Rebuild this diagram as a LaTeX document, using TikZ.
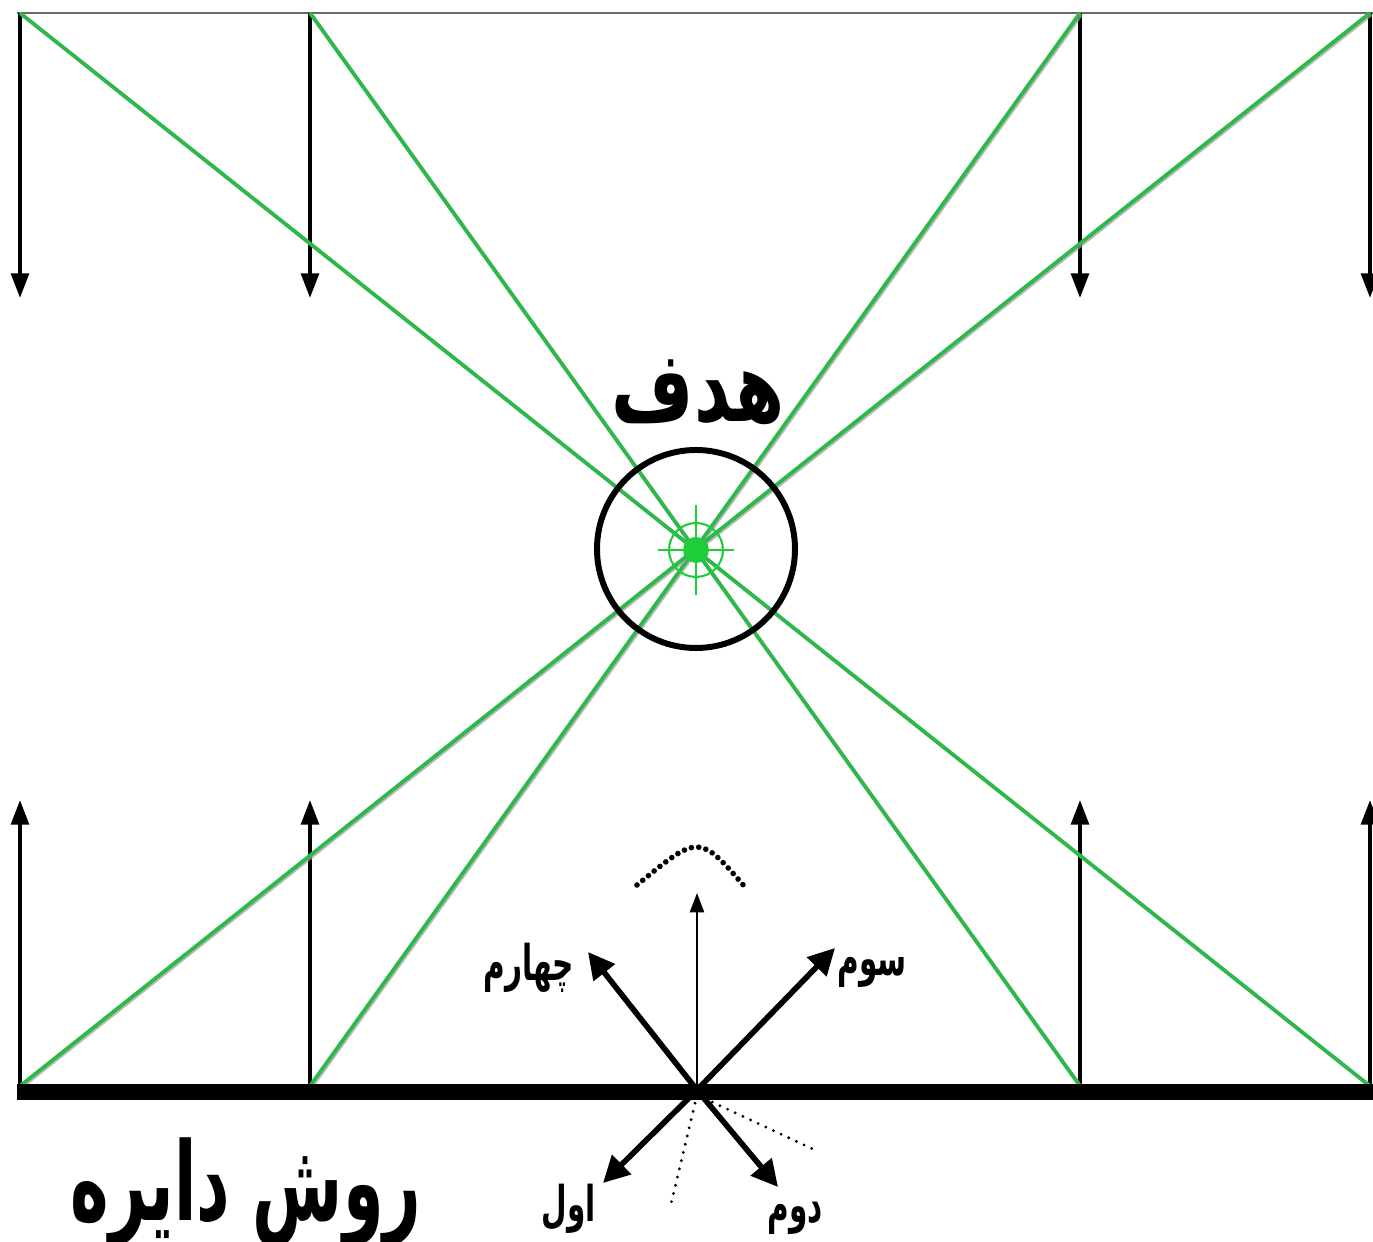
\documentclass[tikz,border=0pt]{standalone}
\usepackage{fontspec}
\usepackage{tikz}
\usetikzlibrary{positioning, arrows.meta, calc}
\TeXXeTstate=1
\newfontfamily\arabicfont[Script=Arabic, FakeStretch=0.72]{DejaVu Sans}
\newfontfamily\narrowfont[Script=Arabic, FakeStretch=0.6]{DejaVu Sans}
\definecolor{beamGreen}{HTML}{2DB84A}
\definecolor{targetGreen}{HTML}{1FCC3A}
\definecolor{frameGray}{HTML}{6A6A6A}
\definecolor{shadowGray}{HTML}{9A9A9A}

\begin{document}
\begin{tikzpicture}[
  beam/.style={beamGreen, line width=1.05pt},
  beamshadow/.style={shadowGray, line width=1pt, opacity=0.7},
  wallarrow/.style={-{Triangle[length=7pt, width=5pt]}, line width=1.15pt, black},
  dirarrow/.style={-{Triangle[length=7.5pt, width=7.5pt]}, line width=1.6pt, black},
  thinarrow/.style={-{Triangle[length=5.5pt, width=4pt]}, line width=0.65pt, black},
  dotline/.style={line width=0.9pt, line cap=round, dash pattern=on 0pt off 2.4pt},
  bigdots/.style={line width=1.6pt, line cap=round, dash pattern=on 0pt off 2.1pt},
  biglabel/.style={font=\arabicfont\bfseries\fontsize{28}{32}\selectfont, inner sep=0pt},
  titlelabel/.style={font=\narrowfont\bfseries\fontsize{31}{35}\selectfont, inner sep=0pt},
  dirlabel/.style={font=\narrowfont\bfseries\fontsize{14}{17}\selectfont, inner sep=0pt},
]
\useasboundingbox (0,0) rectangle (13.73,-12.42);

% === Frame ===
\coordinate (t1) at (0.20,-0.13);
\coordinate (t2) at (3.10,-0.13);
\coordinate (t3) at (10.80,-0.13);
\coordinate (t4) at (13.70,-0.13);
\coordinate (b1) at (0.20,-10.86);
\coordinate (b2) at (3.10,-10.86);
\coordinate (b3) at (10.80,-10.86);
\coordinate (b4) at (13.70,-10.86);
\coordinate (tl) at (0.17,-0.13);
\coordinate (tr) at (13.73,-0.13);
\coordinate (gl) at (0.17,-10.92);
\coordinate (gr) at (13.73,-10.92);

\draw[frameGray, line width=0.45pt] (tl) -- (tr);

% === Wall arrows ===
\foreach \k in {1,...,4} {
  \draw[wallarrow] (t\k) -- ++(0,-2.85);
  \draw[wallarrow] (b\k) -- ++(0,2.86);
}

% === Beams ===
\foreach \a/\b in {t1/b4, t2/b3, t3/b2, t4/b1} {
  \draw[beamshadow] ([shift={(0.014,-0.014)}]\a) -- ([shift={(0.014,-0.014)}]\b);
  \draw[beam] (\a) -- (\b);
}

% === Ground ===
\draw[black, line width=4.6pt] (gl) -- (gr);

% === Target ===
\coordinate (aim) at (6.96,-5.50);
\node[circle, draw=black, line width=1.7pt, minimum size=1.98cm] (ring) at (6.96,-5.49) {};
\node[circle, draw=targetGreen, line width=0.6pt, minimum size=0.54cm, inner sep=0pt] (sight) at (aim) {};
\fill[targetGreen] (aim) circle (0.13);
\draw[targetGreen, line width=0.6pt] ([xshift=-0.38cm]aim) -- ([xshift=0.38cm]aim);
\draw[targetGreen, line width=0.6pt] ([yshift=0.45cm]aim) -- ([yshift=-0.45cm]aim);
\node[biglabel] (goal) at (6.98,-3.92) {\beginR هدف\endR};

% === Directions ===
\coordinate (o) at (6.97,-10.90);
\coordinate (d1) at (6.03,-11.83);
\coordinate (d2) at (7.78,-11.87);
\coordinate (d3) at (8.35,-9.48);
\coordinate (d4) at (5.88,-9.52);
\coordinate (up) at (6.97,-8.93);
\coordinate (s1) at (6.70,-12.08);
\coordinate (s2) at (8.15,-11.50);

\draw[dirarrow] (o) -- (d1);
\draw[dirarrow] (o) -- (d2);
\draw[dirarrow] (o) -- (d3);
\draw[dirarrow] (o) -- (d4);
\draw[thinarrow] (o) -- (up);
\draw[dotline] ([yshift=-0.05cm]o) -- (s1);
\draw[dotline] ([yshift=-0.05cm]o) -- (s2);
\draw[bigdots] (6.37,-8.85) .. controls (6.99,-8.34) .. (7.45,-8.87);

\node[dirlabel] (first) at (5.69,-12.09) {\beginR اول\endR};
\node[dirlabel] (second) at (7.95,-12.18) {\beginR دوم\endR};
\node[dirlabel] (third) at (8.72,-9.72) {\beginR سوم\endR};
\node[dirlabel] (fourth) at (5.29,-9.68) {\beginR چهارم\endR};

% === Title ===
\node[titlelabel] (title) at (2.46,-11.92) {\beginR روش دایره\endR};

\end{tikzpicture}
\end{document}
